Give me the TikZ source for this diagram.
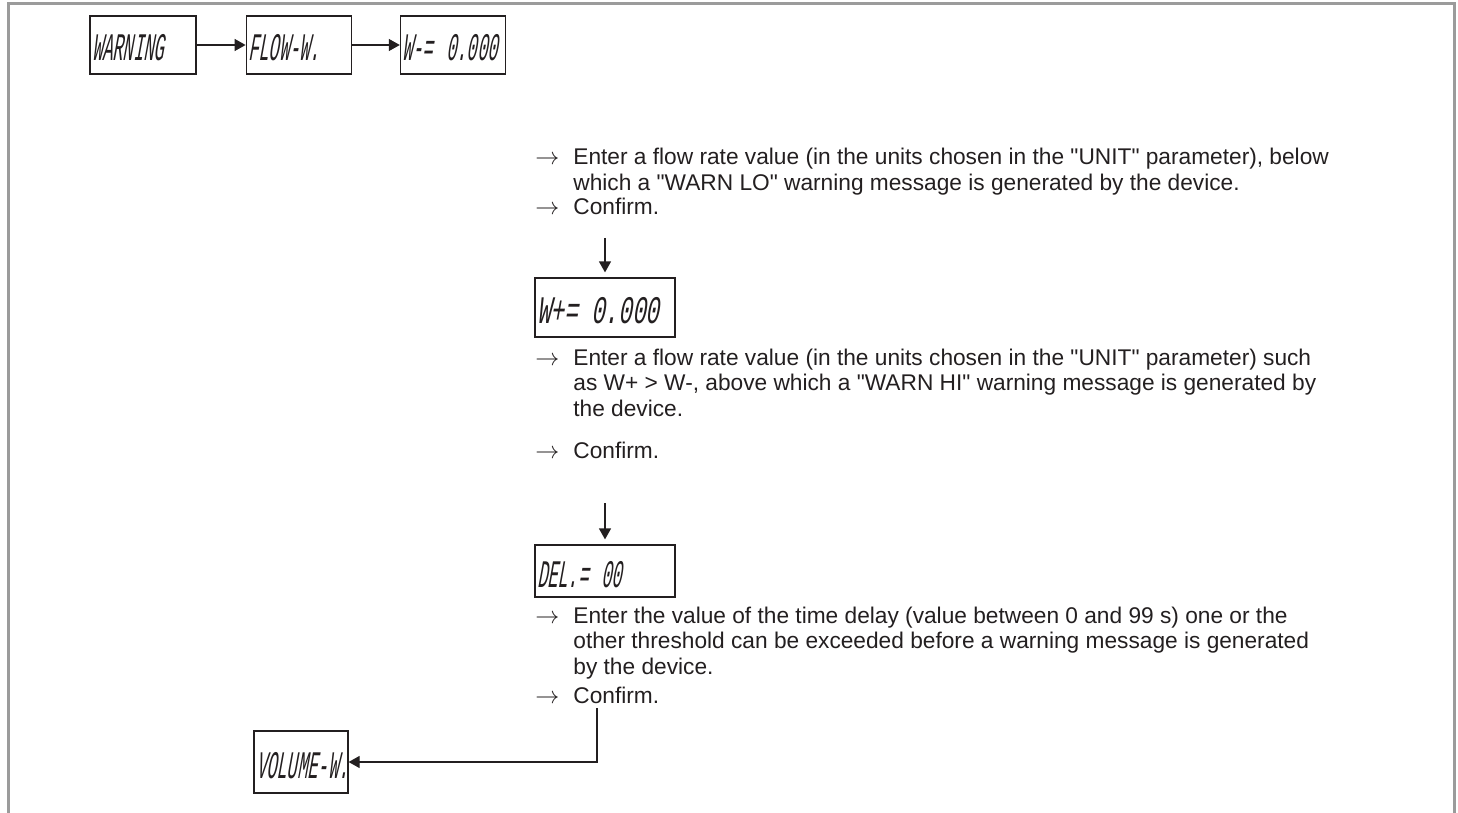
\documentclass[tikz,border=0pt]{standalone}
\usepackage{fontspec}
\setmainfont{Liberation Sans}[Ligatures=TeXOff]
\newfontfamily\lcdfont[FakeStretch=0.44,FakeSlant=0.18]{Liberation Mono}
\newfontfamily\lcdwidefont[FakeStretch=0.585,FakeSlant=0.18]{Liberation Mono}
\usepackage{tikz}
\usetikzlibrary{
  arrows.meta,
  positioning
}
\definecolor{framecolor}{RGB}{155, 155, 155}
\definecolor{labelcolor}{RGB}{35, 31, 32}
% one "->" item, continuation lines start with \\ &
\newcommand{\arrowitem}[1]{%
  \begin{tabular}[t]{@{}p{19pt}@{}l@{}}
    {\fontsize{12}{12}\selectfont$\rightarrow$} & #1
  \end{tabular}}
\tikzset{
lcdbox/.style={
  draw=labelcolor,
  line width=0.6pt,
  inner xsep=1pt,
  inner ysep=0pt,
  align=left,
  font=\lcdfont\fontsize{19.5}{19.5}\selectfont,
  text=labelcolor,
  text height=16pt,
  text depth=0pt
},
steptext/.style={
  anchor=base west,
  inner sep=0pt,
  font=\fontsize{11.35}{12.9}\selectfont,
  text=labelcolor
},
frameline/.style={
  draw=framecolor,
  line width=1.5pt
},
arr/.style={
  -{Triangle[length=5.5pt,width=6pt]},
  line width=0.6pt,
  draw=labelcolor
}
}
\begin{document}
\begin{tikzpicture}[x=0.5pt, y=-0.5pt]
  \useasboundingbox (0,0) rectangle (1458,813);

  % Page frame (open at the bottom)
  \draw[frameline] (8,813) -- (8,4) -- (1454,4) -- (1454,813);

  % Row 1: menu entries
  \node[lcdbox, text width=51pt, minimum height=29pt] (warn) at (143,45) {WARNING};
  \node[lcdbox, text width=50.5pt, minimum height=29pt, right=24.5pt of warn] (flow) {\mbox{FLOW-W.}};
  \node[lcdbox, text width=50.5pt, minimum height=29pt, right=24pt of flow] (wminus) {\mbox{W-= 0.000}};

  \draw[arr] (warn) -- (flow);
  \draw[arr] (flow) -- (wminus);

  % Low threshold
  \node[steptext] (lotext) at (535,165) {\arrowitem{Enter a flow rate value (in the units chosen in the "UNIT" parameter), below\\
    & which a "WARN LO" warning message is generated by the device.}};
  \node[steptext] (loconf) at (535,214) {\arrowitem{Confirm.}};

  \coordinate (d1) at (605,238);
  \node[lcdbox, text width=68pt, minimum height=29.5pt,
    font=\lcdwidefont\fontsize{19.5}{19.5}\selectfont] (wplus) at (605,307.5) {\mbox{W+= 0.000}};
  \draw[arr, shorten >=2.5pt] (d1) -- (wplus.north);

  % High threshold
  \node[steptext] (hitext) at (535,365) {\arrowitem{Enter a flow rate value (in the units chosen in the "UNIT" parameter) such\\
    & as W+ > W-, above which a "WARN HI" warning message is generated by\\
    & the device.}};
  \node[steptext] (hiconf) at (535,458) {\arrowitem{Confirm.}};

  \coordinate (d2) at (605,503);
  \node[lcdbox, text width=68pt, minimum height=26pt] (del) at (605,571) {\mbox{DEL.= 00}};
  \draw[arr, shorten >=2.5pt] (d2) -- (del.north);

  % Time delay
  \node[steptext] (deltext) at (535,623) {\arrowitem{Enter the value of the time delay (value between 0 and 99 s) one or the\\
    & other threshold can be exceeded before a warning message is generated\\
    & by the device.}};
  \node[steptext] (delconf) at (535,703) {\arrowitem{Confirm.}};

  % Back to next menu entry
  \coordinate (d3) at (597,708);
  \node[lcdbox, text width=45pt, minimum height=31pt] (vol) at (301,762) {\mbox{VOLUME-W.}};
  \draw[arr] (d3) |- (vol.east);
\end{tikzpicture}
\end{document}
